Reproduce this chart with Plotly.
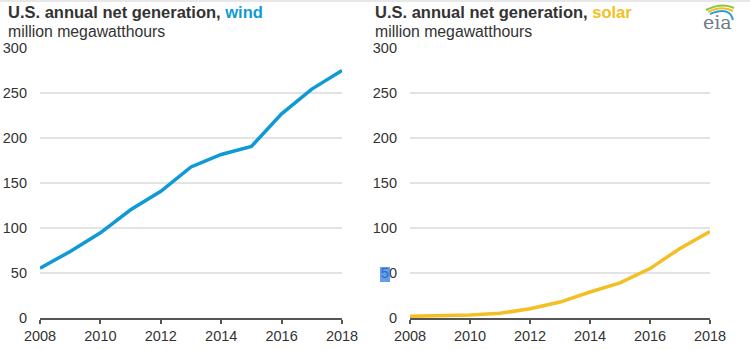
import plotly.graph_objects as go

years = list(range(2008, 2019))
wind = [55.4, 73.9, 94.7, 120.2, 140.8, 167.8, 181.7, 190.7, 226.9, 254.3, 275.0]
solar = [1.9, 2.5, 3.2, 5.2, 10.2, 17.7, 28.9, 39.0, 54.9, 77.3, 96.1]
x_ticks = [2008, 2010, 2012, 2014, 2016, 2018]
y_ticks = [0, 50, 100, 150, 200, 250, 300]

W, H = 750, 350
WIND_C = "#0f9ad6"
SOLAR_C = "#f4bf22"
TXT = "#333333"
FONT = "Liberation Sans, Arial"

fig = go.Figure()
fig.add_trace(go.Scatter(x=years, y=wind, mode="lines", line=dict(color=WIND_C, width=3.5),
                         xaxis="x", yaxis="y", showlegend=False, hoverinfo="skip"))
fig.add_trace(go.Scatter(x=years, y=solar, mode="lines", line=dict(color=SOLAR_C, width=3.5),
                         xaxis="x2", yaxis="y2", showlegend=False, hoverinfo="skip"))

def xa(domain, anchor):
    return dict(domain=domain, anchor=anchor, range=[2008, 2018], tickvals=x_ticks, automargin=False,
                showgrid=False, zeroline=False, showline=True, linecolor="#555555", linewidth=1.5,
                ticks="outside", ticklen=4, tickwidth=1.5, tickcolor="#555555",
                tickfont=dict(family=FONT, size=14.5, color=TXT))

def ya(domain, anchor, standoff):
    return dict(domain=domain, anchor=anchor, range=[0, 300], tickvals=y_ticks, automargin=False,
                showgrid=True, gridcolor="#e3e3e3", gridwidth=1.5, zeroline=False, showline=False,
                ticks="", ticklabelstandoff=standoff,
                tickfont=dict(family=FONT, size=14.5, color=TXT))

ydom = [32 / H, 302 / H]
fig.update_layout(
    width=W, height=H, margin=dict(l=0, r=0, t=0, b=0),
    paper_bgcolor="white", plot_bgcolor="white",
    xaxis=xa([40 / W, 342 / W], "y"), yaxis=ya(ydom, "x", 12),
    xaxis2=xa([410 / W, 710 / W], "y2"), yaxis2=ya(ydom, "x2", 12),
)

def title(x0, word, color):
    fig.add_annotation(xref="paper", yref="paper", x=x0 / W, y=1 - 12 / H, xanchor="left", yanchor="middle",
                       showarrow=False,
                       text=f"<b>U.S. annual net generation, <span style='color:{color}'>{word}</span></b>",
                       font=dict(family=FONT, size=16.5, color=TXT))
    fig.add_annotation(xref="paper", yref="paper", x=x0 / W, y=1 - 32 / H, xanchor="left", yanchor="middle",
                       showarrow=False, text="million megawatthours",
                       font=dict(family=FONT, size=15.8, color=TXT))

title(6, "wind", WIND_C)
title(373, "solar", SOLAR_C)

# text-selection highlight over the "5" of the right panel's 50 label
fig.add_shape(type="rect", xref="paper", yref="paper", layer="above",
              x0=380 / W, x1=390 / W, y0=(H - 282) / H, y1=(H - 267) / H,
              fillcolor="#2f7fe6", opacity=0.75, line=dict(width=0))

# eia logo
fig.add_annotation(xref="paper", yref="paper", x=717 / W, y=1 - 22 / H, xanchor="center", yanchor="middle",
                   showarrow=False, text="eia", font=dict(family="DejaVu Serif", size=19, color="#6d7b88"))
arcs = [("#8cc63f", 706, 10, 722, 2, 734, 8),
        ("#f4bf22", 708, 12, 722, 5, 733, 11),
        ("#2a9fd8", 710, 14, 730, 6, 733, 20)]
for c, xa0, ya0, xc, yc, xa1, ya1 in arcs:
    fig.add_shape(type="path", xref="paper", yref="paper",
                  path=f"M {xa0/W} {(H-ya0)/H} Q {xc/W} {(H-yc)/H} {xa1/W} {(H-ya1)/H}",
                  line=dict(color=c, width=2))

# top border line
fig.add_shape(type="line", xref="paper", yref="paper", x0=0, x1=1, y0=1 - 1 / H, y1=1 - 1 / H,
              line=dict(color="#d0d0d0", width=1))

fig.write_html("out.html")
